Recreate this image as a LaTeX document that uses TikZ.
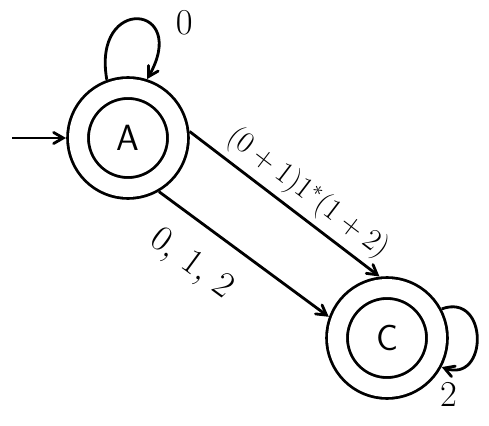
\documentclass[tikz,border=0pt]{standalone}
\usetikzlibrary{arrows}

\begin{document}
\begin{tikzpicture}[x=0.02cm, y=-0.02cm, line width=1.6pt, >=angle 60,
    state/.style={circle, draw, minimum size=2cm, double, double distance=0.36cm, outer sep=0.24cm, font=\huge\sffamily}]
                \useasboundingbox (0,0) rectangle (489,425);
                \begin{scope}
                    \draw node[state] (node1) at (128,138) {A};
                    \draw node[state] (node2) at (387,338) {C};
                    \coordinate (start) at (12,138);

                    \draw[->] (start) to (node1.west);
                    \draw[->] (node1.110) to[out=100, in=60, looseness=5.5] node[pos=0.8, above right, xshift=6pt] {\huge$0$} (node1.72);
                    \draw[->] (node1.6) to node[above, sloped, pos=0.55] {\LARGE$(0+1)1^{*}(1+2)$} (node2.97);
                    \draw[->] (node1.-60) to node[below=0.35cm, sloped, pos=0.33] {\huge$0,\,1,\,2$} (node2.160);
                    \draw[->] (node2.28) to[out=20, in=-20, looseness=2.2] node[pos=0.95, below, yshift=-4pt] {\huge$2$} (node2.-28);
                \end{scope}
            \end{tikzpicture}
\end{document}
